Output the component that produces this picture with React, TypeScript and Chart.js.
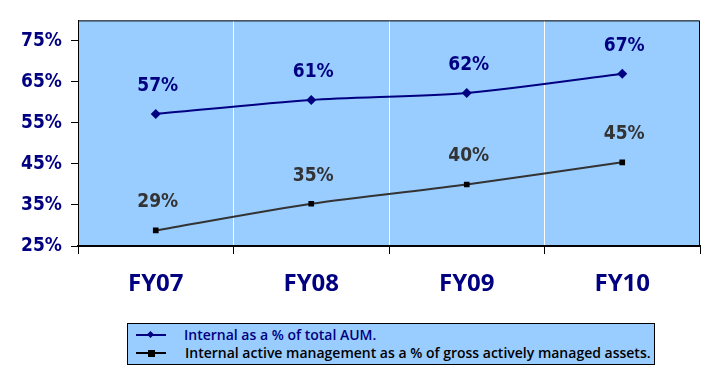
import React, { useEffect, useRef } from "react";
import { Chart, registerables } from "chart.js";

Chart.register(...registerables);

const categories = ["FY07", "FY08", "FY09", "FY10"];
const seriesAumName = "Internal as a % of total AUM.";
const seriesAum = [57.2, 60.6, 62.3, 67.0];
const seriesActiveName = "Internal active management as a % of gross actively managed assets.";
const seriesActive = [28.8, 35.3, 40.0, 45.4];
const yTicks = [25, 35, 45, 55, 65, 75];
const yMin = 25;
const yMax = 80;

const NAVY = "#000080";
const GRAY = "#333333";
const PLOT_BG = "#99CCFF";
const NARROW = "'DejaVu Sans Condensed', sans-serif";
const LABEL_FONT = "'Open Sans', 'Liberation Sans', sans-serif";

const plotDecor = {
  id: "plotDecor",
  beforeDraw(chart: any) {
    const { ctx, chartArea: a } = chart;
    ctx.save();
    ctx.fillStyle = PLOT_BG;
    ctx.fillRect(a.left, a.top, a.right - a.left, a.bottom - a.top);
    ctx.restore();
  },
  afterDraw(chart: any) {
    const { ctx, chartArea: a } = chart;
    ctx.save();
    ctx.strokeStyle = "#000";
    ctx.lineWidth = 1;
    ctx.beginPath();
    ctx.moveTo(a.left + 0.5, a.bottom);
    ctx.lineTo(a.left + 0.5, a.top + 0.5);
    ctx.lineTo(a.right - 0.5, a.top + 0.5);
    ctx.lineTo(a.right - 0.5, a.bottom);
    ctx.stroke();
    ctx.restore();
  },
};

const dataLabels = {
  id: "dataLabels",
  afterDatasetsDraw(chart: any) {
    const { ctx } = chart;
    ctx.save();
    ctx.font = `bold 19px ${NARROW}`;
    ctx.textAlign = "center";
    ctx.textBaseline = "middle";
    chart.data.datasets.forEach((ds: any, i: number) => {
      const meta = chart.getDatasetMeta(i);
      ctx.fillStyle = ds.labelColor;
      meta.data.forEach((pt: any, j: number) => {
        ctx.fillText(Math.round(ds.data[j]) + "%", pt.x + 2, pt.y - 28);
      });
    });
    ctx.restore();
  },
};

export default function App() {
  const ref = useRef<HTMLCanvasElement | null>(null);
  useEffect(() => {
    if (!ref.current) return;
    const chart = new Chart(ref.current, {
      type: "line",
      data: {
        labels: categories,
        datasets: [
          {
            label: seriesAumName,
            data: seriesAum,
            borderColor: NAVY,
            backgroundColor: NAVY,
            borderWidth: 2,
            pointStyle: "rectRot",
            pointRadius: 5,
            pointBorderWidth: 0,
            tension: 0.25,
            labelColor: NAVY,
          } as any,
          {
            label: seriesActiveName,
            data: seriesActive,
            borderColor: GRAY,
            backgroundColor: "#000",
            borderWidth: 2,
            pointStyle: "rect",
            pointRadius: 4,
            pointBorderWidth: 0,
            tension: 0.25,
            labelColor: GRAY,
          } as any,
        ],
      },
      options: {
        responsive: false,
        animation: false,
        devicePixelRatio: 1,
        layout: { padding: { top: 14, right: 20, left: 0, bottom: 0 } },
        plugins: { legend: { display: false }, tooltip: { enabled: false } },
        scales: {
          x: {
            offset: true,
            grid: {
              offset: true,
              color: "#FFFFFF",
              tickColor: "#000",
              tickLength: 8,
              lineWidth: 1,
            },
            border: { color: "#000", width: 2 },
            ticks: {
              color: NAVY,
              font: { family: LABEL_FONT, size: 24, weight: "bold" },
              padding: 16,
            },
            afterFit(scale: any) {
              scale.height = 127;
            },
          },
          y: {
            min: yMin,
            max: yMax,
            grid: {
              drawOnChartArea: false,
              tickColor: "#000",
              tickLength: 7,
            },
            border: { color: "#000", width: 1 },
            ticks: {
              color: NAVY,
              font: { family: NARROW, size: 19, weight: "bold" },
              padding: 9,
              callback: (v: any) => v + "%",
            },
            afterBuildTicks(scale: any) {
              scale.ticks = yTicks.map((v) => ({ value: v }));
            },
            afterFit(scale: any) {
              scale.width = 78;
            },
          },
        },
      },
      plugins: [plotDecor, dataLabels],
    });
    return () => chart.destroy();
  }, []);

  const legendText = {
    fontFamily: "'Open Sans', 'Liberation Sans', sans-serif",
    fontSize: 14,
    fontWeight: 600 as any,
    whiteSpace: "nowrap" as any,
    lineHeight: "18px",
  };

  return (
    <div style={{ position: "fixed", left: 0, top: 0, width: 720, height: 373, background: "#fff" }}>
      <canvas ref={ref} width={720} height={373} style={{ display: "block" }} />
      <div
        style={{
          position: "absolute",
          left: 127,
          top: 323,
          width: 528,
          height: 42,
          boxSizing: "border-box",
          border: "1px solid #000",
          background: PLOT_BG,
          padding: "2px 0 0 8px",
        }}
      >
        <div style={{ display: "flex", alignItems: "center", height: 18 }}>
          <div style={{ position: "relative", width: 30, height: 2, background: NAVY, marginRight: 18 }}>
            <div style={{ position: "absolute", left: 12, top: -2.5, width: 5, height: 5, background: NAVY, transform: "rotate(45deg)" }} />
          </div>
          <span style={{ ...legendText, color: NAVY }}>{seriesAumName}</span>
        </div>
        <div style={{ display: "flex", alignItems: "center", height: 18 }}>
          <div style={{ position: "relative", width: 30, height: 2, background: "#000", marginRight: 19 }}>
            <div style={{ position: "absolute", left: 12, top: -2.5, width: 7, height: 7, background: "#000" }} />
          </div>
          <span style={{ ...legendText, color: "#000" }}>{seriesActiveName}</span>
        </div>
      </div>
    </div>
  );
}
